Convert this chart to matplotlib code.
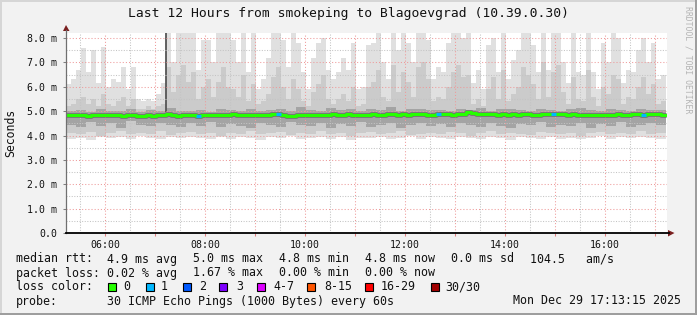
import numpy as np
import matplotlib
matplotlib.use("Agg")
import matplotlib.pyplot as plt
from matplotlib.patches import Rectangle, Polygon
from matplotlib.lines import Line2D
from matplotlib.ticker import MultipleLocator, FuncFormatter

# ---------------- data ----------------
title = "Last 12 Hours from smokeping to Blagoevgrad (10.39.0.30)"
start_hour = 5 + 13 / 60 + 15 / 3600      # 05:13:15
span_hours = 12.0
col_hours = 0.1                            # 6-minute columns

# upper edge of the light smoke (ms), 6-min columns
smoke_max = [6.1, 6.3, 6.7, 7.6, 6.6, 7.5, 6.15, 7.65, 6.0, 6.3, 6.2, 6.8, 5.9, 6.8, 5.5, 5.4, 5.5, 5.4, 5.7, 6.15,
             8.22, 7.0, 8.22, 8.22, 8.22, 8.22, 6.7, 7.9, 7.9, 7.0,
             8.22, 8.22, 8.22, 7.9, 7.0, 8.22, 6.6, 8.22, 5.9, 6.3, 7.2, 8.22, 8.22, 7.9, 6.8, 8.22, 7.8, 6.6, 5.9, 7.2,
             7.8, 8.0, 6.7, 6.3, 6.6, 7.2, 6.7, 7.8, 5.9, 6.0,
             7.7, 7.8, 8.22, 7.0, 6.3, 8.22, 7.5, 8.22, 7.8, 7.0, 8.22, 8.22, 7.9, 6.3, 6.8, 6.6, 7.8, 8.22, 8.22, 8.0,
             8.22, 6.15, 6.7, 5.9, 7.7, 8.0, 6.6, 8.22, 6.3, 7.1,
             7.5, 8.22, 8.22, 7.7, 6.6, 8.22, 6.7, 8.22, 8.22, 7.0, 6.15, 8.22, 6.6, 6.5, 8.22, 6.6, 5.9, 7.8, 7.0, 8.22,
             8.0, 6.15, 6.7, 6.6, 7.5, 8.0, 7.0, 7.8, 6.3, 6.5]
# upper edge of the medium smoke (ms), 6-min columns
smoke_upper = [5.2, 5.3, 5.5, 5.6, 5.3, 5.5, 5.2, 5.7, 5.3, 5.2, 5.4, 5.6, 5.2, 5.5, 5.1, 5.1, 5.2, 5.1, 5.2, 5.3,
               6.8, 5.8, 6.5, 6.9, 6.2, 6.6, 5.5, 6.0, 6.3, 5.6,
               6.2, 6.8, 6.0, 5.9, 5.6, 6.5, 5.4, 6.1, 5.3, 5.4, 5.7, 6.4, 6.8, 6.0, 5.5, 6.3, 5.9, 5.4, 5.2, 5.8,
               6.1, 6.5, 5.5, 5.3, 5.5, 5.7, 5.4, 6.0, 5.2, 5.3,
               6.0, 6.2, 6.7, 5.6, 5.4, 6.9, 5.8, 6.6, 6.2, 5.6, 6.8, 7.0, 6.3, 5.4, 5.6, 5.5, 6.0, 6.6, 6.9, 6.4,
               6.5, 5.3, 5.5, 5.2, 5.9, 6.4, 5.5, 6.7, 5.4, 5.7,
               6.0, 6.8, 6.5, 6.1, 5.5, 7.0, 5.6, 6.6, 6.9, 5.8, 5.3, 6.4, 5.5, 5.4, 6.7, 5.6, 5.2, 6.0, 5.7, 6.5,
               6.3, 5.3, 5.6, 5.5, 6.0, 6.4, 5.7, 6.1, 5.3, 5.4]
# median rtt (ms), 6-min columns
median_rtt = [4.85, 4.83, 4.86, 4.84, 4.82, 4.85, 4.86, 4.84, 4.83, 4.85, 4.84, 4.82, 4.84, 4.83, 4.81, 4.82, 4.84, 4.82, 4.84, 4.86,
              4.88, 4.83, 4.82, 4.85, 4.84, 4.86, 4.80, 4.86, 4.85, 4.86,
              4.85, 4.86, 4.84, 4.88, 4.86, 4.83, 4.84, 4.85, 4.86, 4.83, 4.86, 4.88, 4.87, 4.84, 4.82, 4.81, 4.84, 4.86, 4.85, 4.86,
              4.84, 4.86, 4.85, 4.87, 4.86, 4.84, 4.87, 4.86, 4.84, 4.86,
              4.85, 4.87, 4.86, 4.85, 4.88, 4.87, 4.86, 4.88, 4.86, 4.87, 4.89, 4.88, 4.86, 4.85, 4.87, 4.90, 4.88, 4.86, 4.89, 4.88,
              4.96, 4.93, 4.90, 4.88, 4.90, 4.87, 4.86, 4.88, 4.86, 4.87,
              4.86, 4.88, 4.87, 4.85, 4.86, 4.88, 4.87, 4.89, 4.90, 4.87, 4.86, 4.88, 4.86, 4.85, 4.86, 4.84, 4.86, 4.85, 4.84, 4.86,
              4.87, 4.85, 4.86, 4.88, 4.87, 4.86, 4.88, 4.90, 4.87, 4.86]
# columns with lost pings -> number of lost pings
loss_events = {26: 1, 42: 1, 74: 1, 97: 1, 115: 1}

# lower smoke edges (ms), 12-min columns
smoke_min = [3.85, 3.9, 3.82, 3.95, 3.88, 3.92, 3.85, 3.97, 3.9, 3.86, 3.93, 3.88, 3.95, 3.9, 3.84, 3.92, 3.87, 3.95, 3.9, 3.83,
             3.92, 3.88, 3.96, 3.85, 3.9, 3.93, 3.87, 3.95, 3.82, 3.9, 3.88, 3.94, 3.86, 3.9, 3.97, 3.85, 3.92, 3.88, 3.84, 3.93,
             3.9, 3.86, 3.95, 3.88, 3.83, 3.92, 3.9, 3.85, 3.94, 3.87, 3.91, 3.84, 3.9, 3.96, 3.86, 3.92, 3.88, 3.95, 3.9, 3.87]
smoke_lower = [4.1, 4.05, 4.15, 4.0, 4.1, 4.2, 4.05, 4.12, 4.08, 4.18, 4.02, 4.1, 4.15, 4.05, 4.1, 4.0, 4.12, 4.08, 4.2, 4.05,
               4.1, 4.15, 4.02, 4.1, 4.08, 4.18, 4.05, 4.12, 4.0, 4.1, 4.15, 4.05, 4.1, 4.2, 4.02, 4.08, 4.12, 4.05, 4.15, 4.1,
               4.0, 4.1, 4.18, 4.05, 4.12, 4.08, 4.02, 4.15, 4.1, 4.05, 4.12, 4.0, 4.1, 4.15, 4.05, 4.1, 4.08, 4.2, 4.05, 4.1]
core_low = [4.45, 4.35, 4.55, 4.4, 4.5, 4.3, 4.6, 4.42, 4.38, 4.52, 4.45, 4.33, 4.5, 4.4, 4.55, 4.36, 4.48, 4.4, 4.3, 4.5,
            4.42, 4.35, 4.55, 4.45, 4.38, 4.5, 4.32, 4.47, 4.4, 4.55, 4.35, 4.45, 4.5, 4.3, 4.42, 4.52, 4.38, 4.46, 4.33, 4.5,
            4.44, 4.36, 4.52, 4.4, 4.3, 4.48, 4.42, 4.55, 4.35, 4.45, 4.38, 4.5, 4.32, 4.46, 4.4, 4.55, 4.36, 4.44, 4.5, 4.42]
core_high = [5.0, 5.05, 4.98, 5.1, 5.02, 5.0, 5.08, 4.98, 5.04, 5.0, 5.12, 5.02, 5.0, 5.06, 4.98, 5.1, 5.04, 5.0, 5.08, 5.02,
             5.05, 5.1, 5.0, 5.15, 5.06, 5.02, 5.12, 5.04, 5.08, 5.0, 5.1, 5.05, 5.15, 5.02, 5.08, 5.1, 5.04, 5.06, 5.0, 5.1,
             5.05, 5.12, 5.02, 5.08, 5.1, 5.04, 5.0, 5.1, 5.06, 5.02, 5.08, 5.12, 5.04, 5.0, 5.1, 5.06, 5.02, 5.08, 5.05, 5.04]

# a single dense spike
spike_hour = 7.211
spike_low, spike_high = 4.95, 8.22

loss_labels = ["0", "1", "2", "3", "4-7", "8-15", "16-29", "30/30"]
loss_colors = ["#26ff00", "#00b8ff", "#0059ff", "#7e00ff", "#dd00ff", "#ff5500", "#ff0000", "#a10000"]

legend_rows = [
    [("median rtt:", 16), ("4.9 ms avg", 107), ("5.0 ms max", 193), ("4.8 ms min", 279),
     ("4.8 ms now", 365), ("0.0 ms sd", 451), ("104.5   am/s", 530)],
    [("packet loss:", 16), ("0.02 % avg", 107), ("1.67 % max", 193), ("0.00 % min", 279), ("0.00 % now", 365)],
    [("loss color:", 16)],
    [("probe:", 16), ("30 ICMP Echo Pings (1000 Bytes) every 60s", 107), ("Mon Dec 29 17:13:15 2025", 513)],
]
legend_row_y = [259, 273, 287, 301]
box_x = [108, 146, 183, 219, 257, 307, 365, 431]
label_x = [123, 161, 199, 236, 273, 324, 381, 445]

# ---------------- figure ----------------
W, H = 697, 315
BG = "#F2F2F2"
MONO = "DejaVu Sans Mono"
fig = plt.figure(figsize=(W / 100, H / 100), dpi=100, facecolor=BG)


def fx(px):
    return px / W


def fy(py):
    return 1 - py / H


ax_left, ax_right, ax_top, ax_bot = 66, 667, 33, 233
ax = fig.add_axes([fx(ax_left), fy(ax_bot), fx(ax_right) - fx(ax_left), fy(ax_top) - fy(ax_bot)])
ax.set_facecolor("white")

x_end = start_hour + span_hours * (ax_right - ax_left) / 600.0
ymax = 200 / 24.375
ax.set_xlim(start_hour, x_end)
ax.set_ylim(0, ymax)

e6 = start_hour + np.arange(len(smoke_max) + 1) * col_hours
e12 = start_hour + np.arange(len(smoke_min) + 1) * col_hours * 2


def ext(v):
    v = np.asarray(v, dtype=float)
    return np.r_[v, v[-1]]


min6 = np.repeat(smoke_min, 2)
low6 = np.repeat(smoke_lower, 2)
ax.fill_between(e6, ext(min6), ext(smoke_max), step="post", color="#E0E0E0", lw=0, zorder=1)
ax.fill_between(e6, ext(low6), ext(smoke_upper), step="post", color="#CBCBCB", lw=0, zorder=1.1)
ax.fill_between(e12, ext(core_low), ext(core_high), step="post", color="#A4A4A4", lw=0, zorder=1.2)
ax.vlines([spike_hour], spike_low, spike_high, color="#555555", lw=1.3, zorder=1.3)

# grid
ax.xaxis.set_major_locator(MultipleLocator(1))
ax.xaxis.set_minor_locator(MultipleLocator(0.5))
ax.yaxis.set_major_locator(MultipleLocator(1))
ax.yaxis.set_minor_locator(MultipleLocator(0.5))
ax.set_axisbelow(False)
ax.grid(which="major", color="#EE9A9A", lw=0.75, ls=(0, (1, 2)), zorder=2.5)
ax.grid(which="minor", color="#C4C4C4", lw=0.75, ls=(0, (1, 1.5)), zorder=2.5)


def xfmt(v, pos):
    h = int(round(v))
    return f"{h:02d}:00" if h % 2 == 0 else ""


def yfmt(v, pos):
    return "0.0" if abs(v) < 1e-9 else f"{v:.1f} m"


ax.xaxis.set_major_formatter(FuncFormatter(xfmt))
ax.yaxis.set_major_formatter(FuncFormatter(yfmt))
ax.tick_params(axis="x", which="major", length=2.5, width=0.75, color="#E08080", pad=2.5,
               labelsize=7.1, labelcolor="#111111")
ax.tick_params(axis="x", which="minor", length=0)
ax.tick_params(axis="y", which="major", length=2.5, width=0.75, color="#808080", pad=4,
               labelsize=7.1, labelcolor="#111111")
ax.tick_params(axis="y", which="minor", length=0)
for lab in ax.get_xticklabels() + ax.get_yticklabels():
    lab.set_family(MONO)

# median line
med_e = ext(median_rtt)
ax.step(e6, med_e, where="post", color="#2a2a2a", lw=3.4, alpha=0.4, zorder=3)
ax.step(e6, med_e, where="post", color=loss_colors[0], lw=2.2, zorder=3.1)
for k, n in loss_events.items():
    ax.plot([e6[k], e6[k + 1]], [median_rtt[k], median_rtt[k]], color=loss_colors[n],
            lw=2.2, solid_capstyle="butt", zorder=3.2)

for s in ["top", "right", "left", "bottom"]:
    ax.spines[s].set_visible(False)

# axis lines with arrows (figure pixel coords)
fig.add_artist(Line2D([fx(66), fx(66)], [fy(233), fy(30)], color="#707070", lw=0.9))
fig.add_artist(Line2D([fx(66), fx(669)], [fy(233), fy(233)], color="black", lw=1.3))
arrow_c = "#7A1F1F"
fig.add_artist(Polygon([[fx(66), fy(25)], [fx(63), fy(31)], [fx(69.5), fy(31)]], closed=True,
                       color=arrow_c, lw=0))
fig.add_artist(Polygon([[fx(674.5), fy(233)], [fx(668), fy(230)], [fx(668), fy(236.5)]], closed=True,
                       color=arrow_c, lw=0))

# title and labels
fig.text(0.5, fy(13.5), title, ha="center", va="center", family=MONO, fontsize=9.4, color="#111111")
fig.text(fx(10.5), fy(133), "Seconds", rotation=90, ha="center", va="center", family=MONO,
         fontsize=8.3, color="#111111")
fig.text(fx(688), fy(60), "RRDTOOL / TOBI OETIKER", rotation=270, ha="center", va="center",
         family=MONO, fontsize=5.9, color="#B4B4B4")

# legend
for row, yy in zip(legend_rows, legend_row_y):
    for txt, xx in row:
        fig.text(fx(xx), fy(yy), txt, ha="left", va="center", family=MONO, fontsize=8.35, color="#111111")
for bx, lx, lab, col in zip(box_x, label_x, loss_labels, loss_colors):
    fig.add_artist(Rectangle((fx(bx), fy(291)), fx(8), 8 / H, facecolor=col, edgecolor="black", lw=0.8))
    fig.text(fx(lx), fy(287), lab, ha="left", va="center", family=MONO, fontsize=8.35, color="#111111")

# frame shading
fig.add_artist(Rectangle((0, fy(2)), 1, 2 / H, facecolor="#D6D6D6", lw=0))
fig.add_artist(Rectangle((0, 0), fx(2), 1, facecolor="#D6D6D6", lw=0))
fig.add_artist(Rectangle((0, 0), 1, 2 / H, facecolor="#9E9E9E", lw=0))
fig.add_artist(Rectangle((fx(695), 0), fx(2), 1, facecolor="#9E9E9E", lw=0))

fig.savefig("out.png", dpi=100, facecolor=BG)
